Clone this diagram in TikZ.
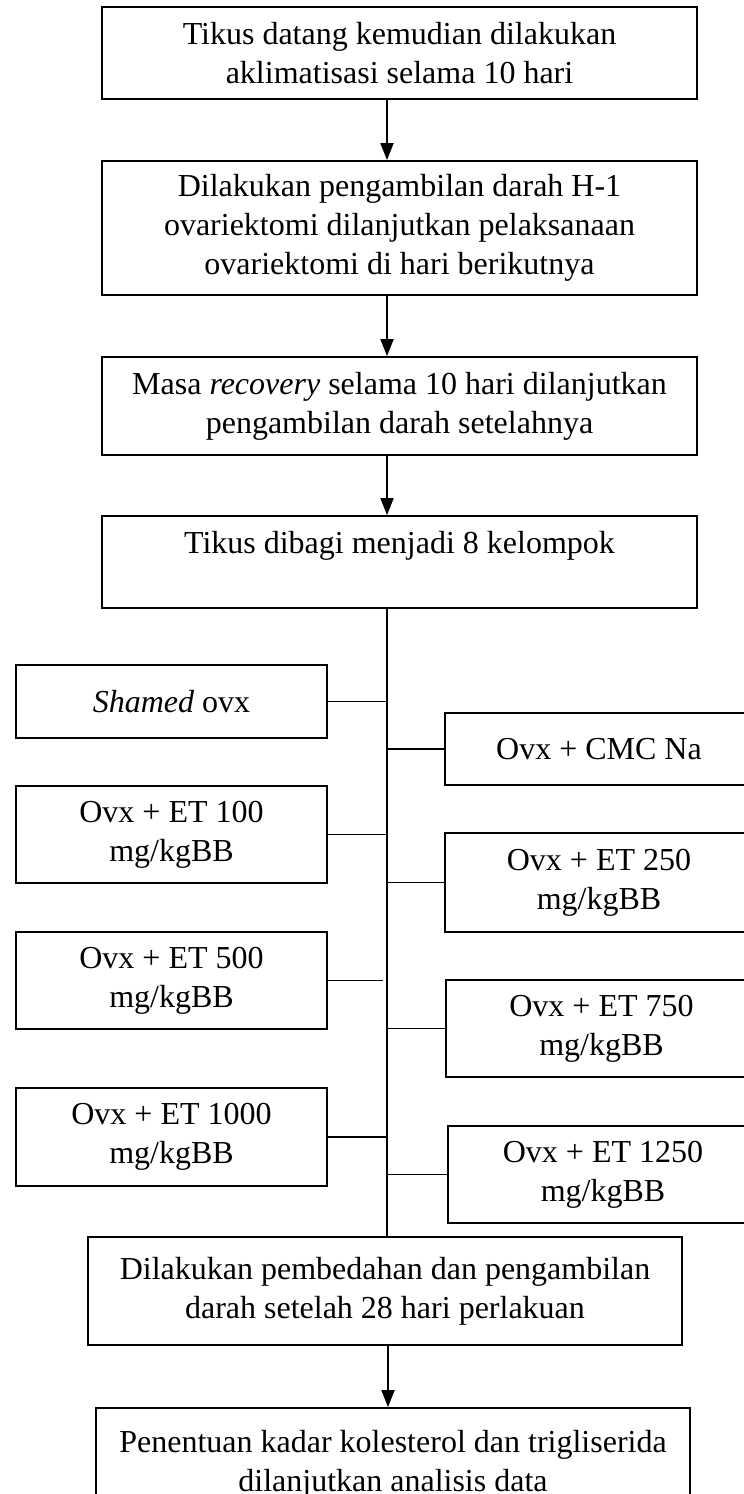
\documentclass[tikz,border=0pt]{standalone}
\usepackage{fontspec}
\setmainfont{Liberation Serif}
\usetikzlibrary{arrows.meta}
\tikzset{
  box/.style={draw, line width=1.8pt, align=center, inner sep=0pt,
    font=\fontsize{32}{39}\selectfont},
  conn/.style={line width=1.8pt},
  arr/.style={line width=1.8pt, -{Triangle[length=17pt,width=13pt]}}
}
\begin{document}
\begin{tikzpicture}[x=1pt,y=-1pt]
\useasboundingbox (0,0) rectangle (744,1494);
\clip (0,0) rectangle (744,1494);
\coordinate (tr) at (387,0);

\node[box, minimum width=595pt, minimum height=92pt] (b1) at (399.5,53)
  {Tikus datang kemudian dilakukan\\aklimatisasi selama 10 hari};
\node[box, minimum width=595pt, minimum height=134pt] (b2) at (399.5,228)
  {Dilakukan pengambilan darah H-1\\ovariektomi dilanjutkan pelaksanaan\\ovariektomi di hari berikutnya};
\node[box, minimum width=595pt, minimum height=98pt] (b3) at (399.5,406)
  {Masa \textit{recovery} selama 10 hari dilanjutkan\\pengambilan darah setelahnya};
\node[box, minimum width=595pt, minimum height=92pt] (b4) at (399.5,562)
  {Tikus dibagi menjadi 8 kelompok\\\mbox{}};

\node[box, minimum width=311pt, minimum height=73pt] (sham) at (171.5,701.5)
  {\textit{Shamed} ovx};
\node[box, minimum width=308pt, minimum height=72pt] (cmc) at (599,749)
  {Ovx + CMC Na};
\node[box, minimum width=311pt, minimum height=97pt] (e100) at (171.5,834.5)
  {Ovx + ET 100\\mg/kgBB};
\node[box, minimum width=308pt, minimum height=99pt] (e250) at (599,882.5)
  {Ovx + ET 250\\mg/kgBB};
\node[box, minimum width=311pt, minimum height=97pt] (e500) at (171.5,980.5)
  {Ovx + ET 500\\mg/kgBB};
\node[box, minimum width=311pt, minimum height=97pt] (e750) at (601.5,1028.5)
  {Ovx + ET 750\\mg/kgBB};
\node[box, minimum width=311pt, minimum height=98pt] (e1000) at (171.5,1137)
  {Ovx + ET 1000\\mg/kgBB};
\node[box, minimum width=310pt, minimum height=97pt] (e1250) at (603,1174.5)
  {Ovx + ET 1250\\mg/kgBB};

\node[box, minimum width=594pt, minimum height=108pt] (pemb) at (385,1291)
  {Dilakukan pembedahan dan pengambilan\\darah setelah 28 hari perlakuan};
\node[box, minimum width=594pt, minimum height=112pt] (last) at (393,1464)
  {Penentuan kadar kolesterol dan trigliserida\\dilanjutkan analisis data};

\draw[arr] (tr |- b1.south) -- (tr |- b2.north);
\draw[arr] (tr |- b2.south) -- (tr |- b3.north);
\draw[arr] (tr |- b3.south) -- (tr |- b4.north);
\draw[conn] (tr |- b4.south) -- (tr |- pemb.north);
\draw[arr] (388,0 |- pemb.south) -- (388,0 |- last.north);

\coordinate (e500end) at (383,980.5);
\draw[conn] (sham.east) -- (sham.east -| tr);
\draw[conn] (cmc.west) -- (cmc.west -| tr);
\draw[conn] (e100.east) -- (e100.east -| tr);
\draw[conn] (e250.west) -- (e250.west -| tr);
\draw[conn] (e500.east) -- (e500end);
\draw[conn] (e750.west) -- (e750.west -| tr);
\draw[conn] (e1000.east) -- (e1000.east -| tr);
\draw[conn] (e1250.west) -- (e1250.west -| tr);
\end{tikzpicture}
\end{document}
